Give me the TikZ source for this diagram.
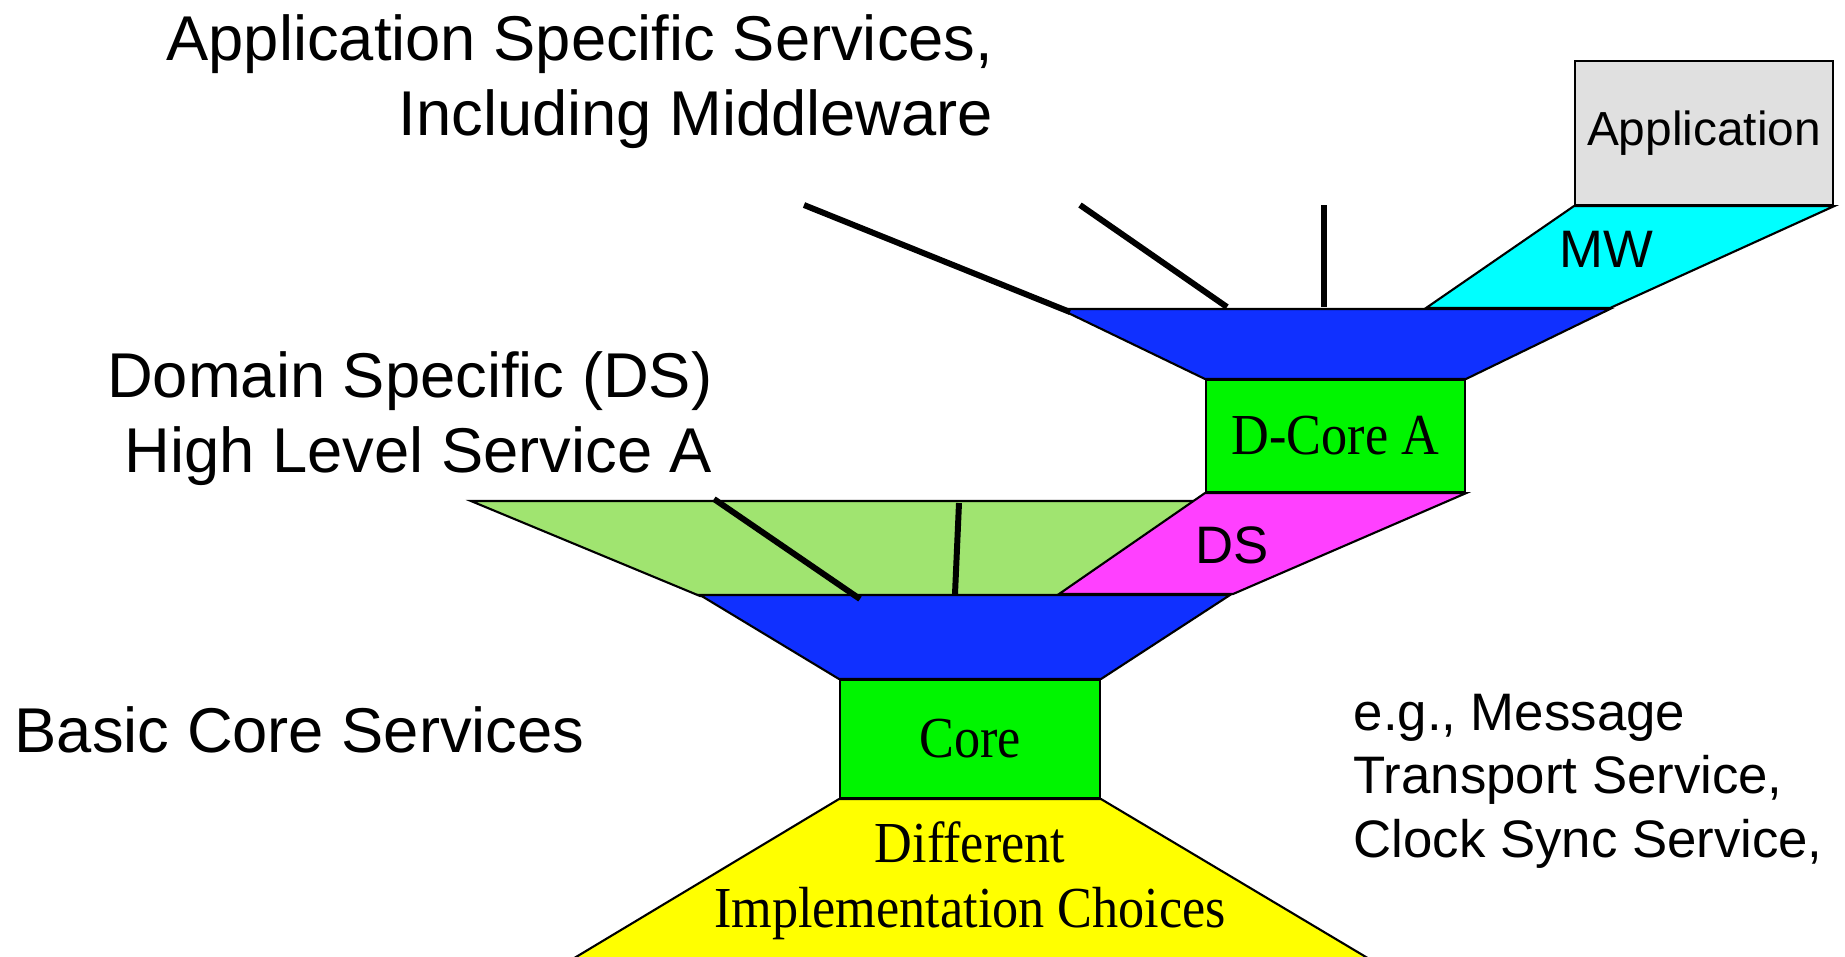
\documentclass[tikz,border=0pt]{standalone}
\usepackage{fontspec}
\setmainfont{Liberation Serif}
\setsansfont{Liberation Sans}
\newfontfamily\narrowserif[FakeStretch=0.9]{Liberation Serif}
\usetikzlibrary{positioning}

\definecolor{appgrey}{RGB}{224,224,224}
\definecolor{mwcyan}{RGB}{0,255,255}
\definecolor{hubblue}{RGB}{16,48,255}
\definecolor{coregreen}{RGB}{0,245,0}
\definecolor{dsgreen}{RGB}{160,228,112}
\definecolor{dsmagenta}{RGB}{255,64,255}
\definecolor{choiceyellow}{RGB}{255,255,0}

\tikzset{
  layer/.style={draw=black, line width=0.6pt},
  box/.style={layer, rectangle, inner sep=0pt},
  sanstext/.style={inner sep=0pt, font=\sffamily\fontsize{18}{21.3}\selectfont},
  serif/.style={font=\narrowserif\fontsize{16.5}{18.5}\selectfont}
}

\begin{document}
\begin{tikzpicture}[x=0.01cm, y=-0.01cm]
      \useasboundingbox (0,0) rectangle (1845,956);
      % boxes
      \begin{scope}[every node/.style={box}]
        \node (app) [fill=appgrey, minimum width=2.58cm, minimum height=1.44cm,
          font=\sffamily\fontsize{13.6}{16}\selectfont] at (1704,133) {\raisebox{-1.3pt}{Application}};
        \node (dcore) [fill=coregreen, minimum width=2.59cm, minimum height=1.12cm, serif] at (1335.5,436) {D-Core A};
        \node (core) [fill=coregreen, minimum width=2.60cm, minimum height=1.18cm, serif] at (970,739) {Core};
      \end{scope}
      % layers
      \draw[layer, fill=mwcyan] (app.south west) -- (app.south east) -- (1610,308) -- (1426,308) -- cycle;
      \draw[layer, fill=hubblue] (1060,309) -- (1610,309) -- (dcore.north east) -- (dcore.north west) -- cycle;
      \draw[layer, fill=dsgreen] (471,501) -- (1200,501) -- (1059,596) -- (700,596) -- cycle;
      \draw[layer, fill=dsmagenta] (dcore.south west) -- (dcore.south east) -- (1233,594) -- (1059,594) -- cycle;
      \draw[layer, fill=hubblue] (700,595) -- (1230,595) -- (core.north east) -- (core.north west) -- cycle;
      \draw[layer, fill=choiceyellow] (core.south west) -- (core.south east) -- (1371,960) -- (571,960) -- cycle;
      \node (mw) [font=\sffamily\fontsize{15}{18}\selectfont] at (1606,249) {MW};
      \node (ds) [font=\sffamily\fontsize{15}{18}\selectfont] at (1232,545) {DS};
      \node (choices) [serif, align=center, below=0.1cm of core] {Different\\Implementation Choices};
      % pointers
      \coordinate (ap1) at (804,205);  \coordinate (ap1e) at (1070,312);
      \coordinate (ap2) at (1080,205); \coordinate (ap2e) at (1227,307);
      \coordinate (ap3) at (1324,205); \coordinate (ap3e) at (1324,307);
      \coordinate (dp1) at (714,499);  \coordinate (dp1e) at (860,599);
      \coordinate (dp2) at (959,503);  \coordinate (dp2e) at (955,594);
      \begin{scope}[every edge/.style={draw=black, line width=1.7pt}]
        \path (ap1) edge (ap1e);
        \path (ap2) edge (ap2e);
        \path (ap3) edge (ap3e);
        \path (dp1) edge (dp1e);
        \path (dp2) edge (dp2e);
      \end{scope}
      % texts
      \node (asstxt) [sanstext, anchor=north east, align=right] at (994,14)
        {Application Specific Services,\\Including Middleware};
      \node (dstxt) [sanstext, anchor=north east, align=right] at (713,351)
        {Domain Specific (DS)\\High Level Service A};
      \node (coretxt) [sanstext, anchor=north west] at (14,706)
        {Basic Core Services};
      \node (egtxt) [sanstext, anchor=north west, align=left, font=\sffamily\fontsize{15}{18.1}\selectfont] at (1353,693)
        {e.g., Message\\Transport Service,\\Clock Sync Service,};
\end{tikzpicture}
\end{document}
